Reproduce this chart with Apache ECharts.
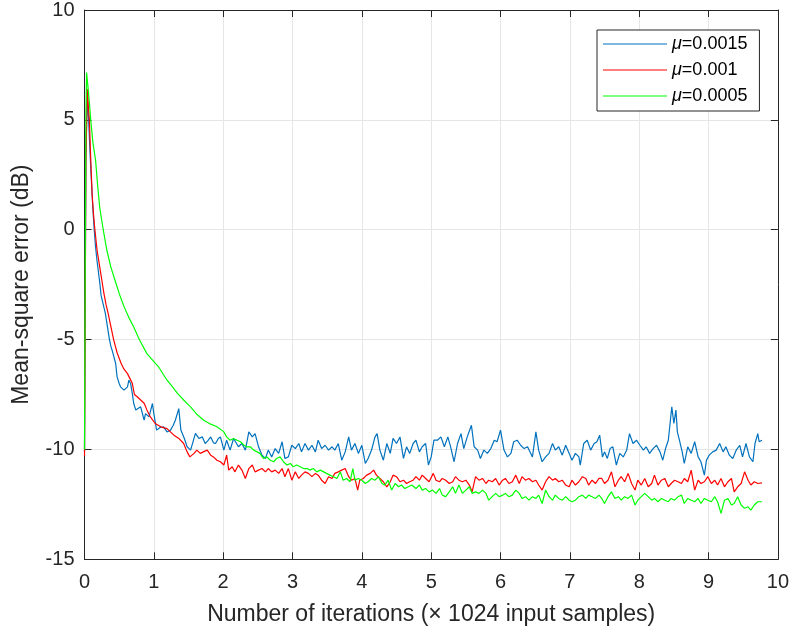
<!DOCTYPE html>
<html>
<head>
<meta charset="utf-8">
<script src="https://cdn.jsdelivr.net/npm/echarts@6/dist/echarts.min.js"></script>
<style>html,body{margin:0;padding:0;background:#fff}#c{width:792px;height:632px}</style>
</head>
<body>
<div id="c"></div>
<script>
const xTicks = [0,1,2,3,4,5,6,7,8,9,10];
const yTicks = [-15,-10,-5,0,5,10];
const legendNames = ['μ=0.0015','μ=0.001','μ=0.0005'];
const xTitle = 'Number of iterations (× 1024 input samples)';
const yTitle = 'Mean-square error (dB)';

const blue = [[0,-10.1],[0.02,3.5],[0.04,6.0],[0.06,5.0],[0.08,3.5],[0.10,2.2],[0.12,1.0],[0.14,0],[0.16,-0.8],[0.18,-1.4],[0.20,-1.9],[0.22,-2.4],[0.24,-3.0],[0.27,-3.4],[0.30,-3.8],[0.33,-4.4],[0.36,-5.0],[0.38,-5.3],[0.40,-5.5],[0.425,-5.8],[0.45,-6.1],[0.47,-6.7],[0.50,-7.0],[0.52,-7.15],[0.57,-7.3],[0.62,-7.15],[0.64,-6.85],[0.665,-7.0],[0.69,-7.46],[0.71,-7.91],[0.74,-8.21],[0.76,-8.29],[0.81,-8.06],[0.86,-8.67],[0.88,-8.37],[0.93,-8.52],[0.98,-7.91],[1.0,-8.37],[1.04,-9.12],[1.09,-9.0],[1.14,-8.97],[1.19,-9.2],[1.24,-9.12],[1.28,-8.9],[1.31,-8.67],[1.36,-8.14],[1.39,-9.12],[1.44,-9.5],[1.48,-9.88],[1.53,-10.03],[1.57,-9.6],[1.60,-9.27],[1.65,-9.5],[1.70,-9.43],[1.74,-9.73],[1.78,-9.6],[1.82,-9.43],[1.86,-9.7],[1.89,-9.73],[1.93,-9.5],[1.96,-9.43],
[2.01,-10.03],[2.05,-9.58],[2.10,-10.03],[2.15,-9.50],[2.22,-9.88],[2.27,-9.73],[2.32,-10.03],[2.37,-9.20],[2.42,-9.43],[2.46,-9.28],[2.51,-9.88],[2.56,-10.26],[2.61,-10.41],[2.65,-10.03],[2.70,-10.34],[2.75,-9.96],[2.80,-10.18],[2.85,-9.65],[2.89,-10.41],[2.94,-10.34],[2.99,-9.81],[3.04,-9.96],[3.09,-9.73],[3.13,-10.11],[3.18,-9.73],[3.23,-10.03],[3.28,-9.81],[3.33,-10.11],[3.37,-9.58],[3.42,-9.96],[3.47,-9.81],[3.52,-10.03],[3.57,-9.88],[3.61,-10.03],[3.66,-9.73],[3.71,-10.49],[3.76,-10.11],[3.81,-9.43],[3.85,-10.03],[3.90,-9.73],[3.95,-10.18],[4.00,-9.81],[4.05,-10.64],[4.09,-10.41],[4.14,-10.03],[4.19,-9.43],[4.22,-9.28],[4.26,-10.03],[4.31,-10.49],[4.36,-9.73],[4.41,-10.18],[4.45,-9.50],[4.50,-9.73],[4.55,-9.43],[4.60,-10.41],[4.645,-9.88],[4.69,-10.18],[4.74,-9.73],
[4.78,-9.58],[4.83,-10.11],[4.87,-9.88],[4.92,-9.73],[4.96,-10.71],[5.0,-10.34],[5.04,-9.58],[5.09,-9.58],[5.14,-9.43],[5.19,-9.88],[5.24,-9.43],[5.28,-9.88],[5.33,-10.56],[5.38,-9.73],[5.43,-9.28],[5.47,-9.96],[5.52,-9.43],[5.58,-8.90],[5.62,-9.88],[5.67,-10.03],[5.71,-10.41],[5.76,-10.03],[5.81,-10.18],[5.86,-9.96],[5.91,-9.58],[5.95,-9.65],[6.0,-9.12],[6.05,-10.03],[6.10,-10.34],[6.15,-10.18],[6.19,-9.65],[6.24,-9.58],[6.29,-9.81],[6.34,-9.96],[6.39,-9.88],[6.46,-10.34],[6.51,-9.20],[6.55,-10.03],[6.60,-10.56],[6.65,-10.34],[6.70,-10.18],[6.75,-9.73],[6.79,-10.03],[6.84,-9.88],[6.89,-10.26],[6.94,-9.81],[6.99,-10.18],[7.03,-10.49],[7.08,-10.18],[7.13,-10.34],[7.15,-10.71],[7.20,-9.73],[7.25,-9.58],[7.30,-10.03],[7.35,-9.73],[7.39,-9.65],
[7.43,-9.35],[7.47,-10.34],[7.50,-10.11],[7.54,-10.41],[7.58,-9.96],[7.62,-9.88],[7.67,-10.71],[7.72,-10.18],[7.77,-10.34],[7.82,-10.03],[7.86,-9.28],[7.91,-9.73],[7.96,-9.58],[8.01,-9.81],[8.06,-10.03],[8.10,-9.88],[8.15,-10.18],[8.20,-9.96],[8.25,-9.81],[8.30,-10.11],[8.34,-10.49],[8.38,-9.96],[8.42,-9.58],[8.45,-8.67],[8.47,-8.06],[8.50,-8.82],[8.53,-8.21],[8.55,-9.20],[8.58,-9.58],[8.62,-10.11],[8.65,-10.64],[8.70,-9.88],[8.75,-10.18],[8.80,-9.65],[8.85,-10.34],[8.89,-10.56],[8.94,-11.17],[8.97,-10.49],[9.01,-10.26],[9.06,-10.11],[9.11,-10.03],[9.16,-9.73],[9.21,-10.11],[9.25,-9.88],[9.30,-10.26],[9.35,-10.41],[9.40,-10.03],[9.45,-9.81],[9.49,-10.34],[9.54,-9.73],[9.59,-10.34],[9.64,-10.56],[9.67,-9.73],[9.71,-9.28],[9.73,-9.65],[9.77,-9.58]];

const red = [[0,-10.3],[0.02,3.0],[0.04,6.4],[0.06,5.4],[0.07,5.0],[0.09,3.2],[0.11,1.6],[0.13,0.7],[0.15,0],[0.18,-0.9],[0.22,-1.7],[0.25,-2.3],[0.28,-2.9],[0.31,-3.4],[0.34,-3.8],[0.38,-4.4],[0.42,-5.0],[0.47,-5.6],[0.53,-6.1],[0.57,-6.35],[0.62,-6.55],[0.66,-6.8],[0.69,-7.0],[0.72,-7.5],[0.76,-7.6],[0.81,-7.75],[0.86,-7.9],[0.90,-8.2],[0.95,-8.52],[1.02,-8.82],[1.10,-8.97],[1.19,-9.05],[1.29,-9.35],[1.36,-9.5],[1.43,-9.73],[1.48,-10.11],[1.52,-10.34],[1.58,-10.18],[1.62,-10.03],[1.67,-10.18],[1.72,-10.1],[1.77,-10.03],[1.82,-10.26],[1.86,-10.34],[1.91,-10.49],[1.96,-10.56],
[2.01,-10.71],[2.05,-10.26],[2.08,-10.94],[2.13,-10.79],[2.17,-11.02],[2.22,-10.71],[2.27,-10.94],[2.32,-11.32],[2.37,-10.87],[2.42,-10.71],[2.46,-11.02],[2.51,-10.94],[2.56,-10.87],[2.61,-11.02],[2.65,-10.87],[2.70,-11.02],[2.75,-10.94],[2.80,-11.09],[2.85,-10.87],[2.89,-11.24],[2.94,-10.87],[2.99,-11.40],[3.04,-11.02],[3.09,-11.32],[3.13,-11.17],[3.18,-11.02],[3.23,-11.09],[3.28,-11.24],[3.33,-11.09],[3.37,-11.17],[3.42,-11.40],[3.47,-11.55],[3.52,-11.24],[3.57,-11.32],[3.61,-11.09],[3.66,-11.02],[3.71,-10.94],[3.76,-10.87],[3.81,-11.24],[3.85,-11.40],[3.90,-11.32],[3.94,-11.85],[3.97,-11.40],[4.02,-11.32],[4.07,-11.17],[4.12,-11.09],[4.17,-10.94],[4.21,-11.17],[4.26,-11.32],[4.31,-11.47],[4.36,-11.70],[4.41,-11.47],[4.45,-11.17],[4.50,-11.24],[4.55,-11.47],[4.60,-11.40],[4.645,-11.55],[4.69,-11.47],[4.74,-11.40],
[4.78,-11.24],[4.83,-11.40],[4.87,-11.17],[4.92,-11.32],[4.97,-11.47],[5.03,-11.09],[5.07,-11.40],[5.12,-11.47],[5.16,-11.32],[5.21,-11.40],[5.26,-11.55],[5.31,-11.47],[5.35,-11.24],[5.40,-11.40],[5.45,-11.47],[5.50,-11.40],[5.55,-11.62],[5.59,-11.93],[5.64,-11.24],[5.69,-11.40],[5.74,-11.32],[5.79,-11.55],[5.83,-11.40],[5.88,-11.47],[5.93,-11.32],[5.98,-11.62],[6.03,-11.40],[6.07,-11.32],[6.12,-11.55],[6.17,-11.47],[6.22,-11.17],[6.27,-11.55],[6.31,-11.24],[6.36,-11.40],[6.41,-11.32],[6.46,-11.47],[6.51,-11.40],[6.55,-11.62],[6.60,-11.85],[6.65,-11.47],[6.70,-11.24],[6.75,-11.40],[6.79,-11.32],[6.84,-11.47],[6.89,-11.40],[6.94,-11.62],[6.99,-11.70],[7.03,-11.40],[7.08,-11.62],[7.13,-11.47],[7.18,-11.24],[7.23,-11.32],[7.27,-11.62],[7.32,-11.40],[7.37,-11.55],[7.42,-11.32],
[7.46,-11.32],[7.50,-11.55],[7.55,-11.40],[7.60,-11.02],[7.65,-11.70],[7.70,-11.40],[7.74,-11.24],[7.79,-11.47],[7.84,-11.09],[7.89,-11.55],[7.94,-11.85],[7.98,-11.40],[8.03,-11.62],[8.08,-11.32],[8.13,-11.70],[8.18,-11.55],[8.22,-11.17],[8.27,-11.62],[8.32,-11.40],[8.37,-11.32],[8.42,-11.70],[8.46,-11.55],[8.51,-11.40],[8.56,-11.47],[8.61,-11.55],[8.65,-11.32],[8.70,-11.47],[8.75,-10.94],[8.80,-11.85],[8.85,-11.40],[8.89,-11.55],[8.94,-11.47],[8.99,-11.24],[9.04,-11.55],[9.09,-11.40],[9.13,-11.62],[9.18,-11.32],[9.23,-11.70],[9.28,-11.47],[9.33,-11.32],[9.37,-11.93],[9.42,-11.70],[9.47,-11.55],[9.52,-11.02],[9.57,-11.40],[9.61,-11.62],[9.66,-11.47],[9.71,-11.55],[9.77,-11.52]];

const green = [[0,-10.0],[0.01,-2.0],[0.02,5.0],[0.03,7.15],[0.05,6.5],[0.07,5.8],[0.09,5.0],[0.12,4.0],[0.16,3.15],[0.19,2.0],[0.22,1.0],[0.27,0],[0.32,-0.9],[0.38,-1.7],[0.44,-2.3],[0.50,-2.9],[0.57,-3.5],[0.64,-4.0],[0.71,-4.43],[0.79,-5.0],[0.90,-5.64],[1.0,-6.0],[1.07,-6.25],[1.19,-6.85],[1.27,-7.15],[1.34,-7.45],[1.43,-7.75],[1.53,-8.06],[1.62,-8.4],[1.72,-8.67],[1.82,-8.85],[1.91,-8.97],[2.01,-9.2],
[2.05,-9.43],[2.10,-9.58],[2.15,-9.50],[2.20,-9.58],[2.25,-9.65],[2.30,-9.81],[2.34,-9.88],[2.39,-9.88],[2.44,-10.03],[2.49,-10.11],[2.53,-10.18],[2.58,-10.41],[2.63,-10.34],[2.68,-10.49],[2.73,-10.56],[2.77,-10.41],[2.82,-10.34],[2.87,-10.56],[2.92,-10.71],[2.97,-10.64],[3.01,-10.79],[3.06,-10.71],[3.11,-10.79],[3.16,-10.87],[3.21,-10.87],[3.25,-10.94],[3.30,-10.87],[3.35,-11.02],[3.40,-10.94],[3.45,-11.02],[3.49,-11.09],[3.54,-11.17],[3.59,-11.24],[3.64,-11.32],[3.69,-11.02],[3.73,-11.40],[3.78,-11.32],[3.83,-11.47],[3.87,-10.87],[3.90,-11.40],[3.95,-11.32],[4.00,-11.40],[4.05,-11.55],[4.09,-11.47],[4.14,-11.32],[4.19,-11.40],[4.24,-11.24],[4.29,-11.55],[4.33,-11.62],[4.38,-11.40],[4.43,-11.85],[4.48,-11.55],[4.53,-11.70],[4.57,-11.62],[4.62,-11.78],[4.67,-11.70],[4.72,-11.62],
[4.78,-11.78],[4.83,-11.62],[4.87,-11.85],[4.92,-11.78],[4.97,-11.93],[5.02,-11.85],[5.07,-12.00],[5.12,-11.78],[5.16,-12.08],[5.21,-12.15],[5.26,-11.93],[5.31,-11.70],[5.35,-12.00],[5.40,-11.62],[5.45,-12.00],[5.50,-11.85],[5.55,-11.70],[5.59,-12.00],[5.64,-11.93],[5.69,-12.00],[5.74,-11.85],[5.79,-12.00],[5.83,-12.31],[5.88,-12.15],[5.93,-12.00],[5.98,-12.15],[6.03,-12.08],[6.07,-12.00],[6.12,-12.15],[6.17,-12.08],[6.22,-11.85],[6.27,-12.00],[6.31,-12.23],[6.36,-12.15],[6.41,-12.31],[6.46,-12.15],[6.51,-12.23],[6.55,-12.08],[6.60,-12.46],[6.65,-11.85],[6.70,-12.15],[6.75,-12.31],[6.79,-12.08],[6.84,-12.23],[6.89,-12.31],[6.94,-12.15],[6.99,-12.31],[7.03,-12.38],[7.08,-12.31],[7.13,-12.15],[7.18,-12.08],[7.23,-12.23],[7.27,-12.08],[7.32,-12.15],[7.37,-12.23],[7.42,-12.08],
[7.46,-12.23],[7.50,-12.46],[7.55,-12.15],[7.60,-11.93],[7.65,-12.23],[7.70,-12.15],[7.74,-12.31],[7.79,-12.15],[7.84,-12.23],[7.89,-12.08],[7.94,-12.53],[7.98,-12.31],[8.03,-12.15],[8.08,-12.00],[8.13,-12.15],[8.18,-12.31],[8.22,-12.23],[8.27,-12.38],[8.32,-12.23],[8.37,-12.31],[8.42,-12.38],[8.46,-12.23],[8.51,-12.31],[8.56,-12.15],[8.61,-12.08],[8.65,-12.46],[8.70,-12.23],[8.75,-12.31],[8.80,-12.38],[8.85,-12.23],[8.89,-12.46],[8.94,-12.23],[8.99,-12.31],[9.04,-12.38],[9.09,-12.15],[9.13,-12.38],[9.18,-12.91],[9.23,-12.31],[9.28,-12.23],[9.33,-12.53],[9.37,-12.46],[9.42,-12.15],[9.47,-12.53],[9.52,-12.68],[9.57,-12.61],[9.61,-12.76],[9.66,-12.53],[9.71,-12.38],[9.77,-12.38]];

const seriesData = [blue, red, green];
const colors = ['#0072BD', '#FF0000', '#00FF00'];

const chart = echarts.init(document.getElementById('c'), null, {renderer: 'canvas'});
const FONT = 'Liberation Sans, Arial, Helvetica, sans-serif';
const axisCol = '#262626';
const gridBox = {left: 84.5, right: 12.5, top: 9.5, bottom: 72.7};
const xMin = xTicks[0], xMax = xTicks[xTicks.length - 1];
const yMin = yTicks[0], yMax = yTicks[yTicks.length - 1];
const xInt = xTicks[1] - xTicks[0], yInt = yTicks[1] - yTicks[0];

const baseX = {type: 'value', min: xMin, max: xMax, interval: xInt};
const baseY = {type: 'value', min: yMin, max: yMax, interval: yInt};
const line = {show: true, onZero: false, lineStyle: {color: axisCol, width: 1}};
const tick = {show: true, inside: true, length: 7, lineStyle: {color: axisCol}};

chart.setOption({
  animation: false,
  backgroundColor: '#fff',
  grid: gridBox,
  legend: {
    data: legendNames,
    orient: 'vertical',
    left: 597, top: 30,
    padding: [5, 12, 6, 6],
    icon: 'rect',
    itemWidth: 64, itemHeight: 1, itemGap: 8,
    borderColor: axisCol, borderWidth: 1, borderRadius: 0,
    backgroundColor: '#fff',
    textStyle: {fontFamily: FONT, fontSize: 18, lineHeight: 18, color: '#000',
      rich: {i: {fontStyle: 'italic', fontFamily: FONT, fontSize: 18, lineHeight: 18, color: '#000'}}},
    formatter: n => '{i|' + n.charAt(0) + '}' + n.slice(1)
  },
  xAxis: [
    Object.assign({}, baseX, {
      position: 'bottom',
      name: xTitle, nameLocation: 'middle', nameGap: 44,
      nameTextStyle: {fontFamily: FONT, fontSize: 23, color: axisCol},
      axisLine: line, axisTick: tick,
      axisLabel: {fontFamily: FONT, fontSize: 20, color: axisCol, margin: 13},
      splitLine: {show: true, lineStyle: {color: '#e6e6e6', width: 1}}
    }),
    Object.assign({}, baseX, {
      position: 'top',
      axisLine: line, axisTick: tick,
      axisLabel: {show: false}, splitLine: {show: false}
    })
  ],
  yAxis: [
    Object.assign({}, baseY, {
      position: 'left',
      name: yTitle, nameLocation: 'middle', nameGap: 51, nameRotate: 90,
      nameTextStyle: {fontFamily: FONT, fontSize: 23, color: axisCol},
      axisLine: line, axisTick: tick,
      axisLabel: {fontFamily: FONT, fontSize: 20, color: axisCol, margin: 10},
      splitLine: {show: true, lineStyle: {color: '#e6e6e6', width: 1}}
    }),
    Object.assign({}, baseY, {
      position: 'right',
      axisLine: line, axisTick: tick,
      axisLabel: {show: false}, splitLine: {show: false}
    })
  ],
  series: seriesData.map((d, i) => ({
    name: legendNames[i],
    type: 'line',
    data: d,
    xAxisIndex: 0, yAxisIndex: 0,
    symbol: 'none', showSymbol: false,
    lineStyle: {color: colors[i], width: 1.2},
    itemStyle: {color: colors[i]},
    z: 2 + i
  }))
});
</script>
</body>
</html>
